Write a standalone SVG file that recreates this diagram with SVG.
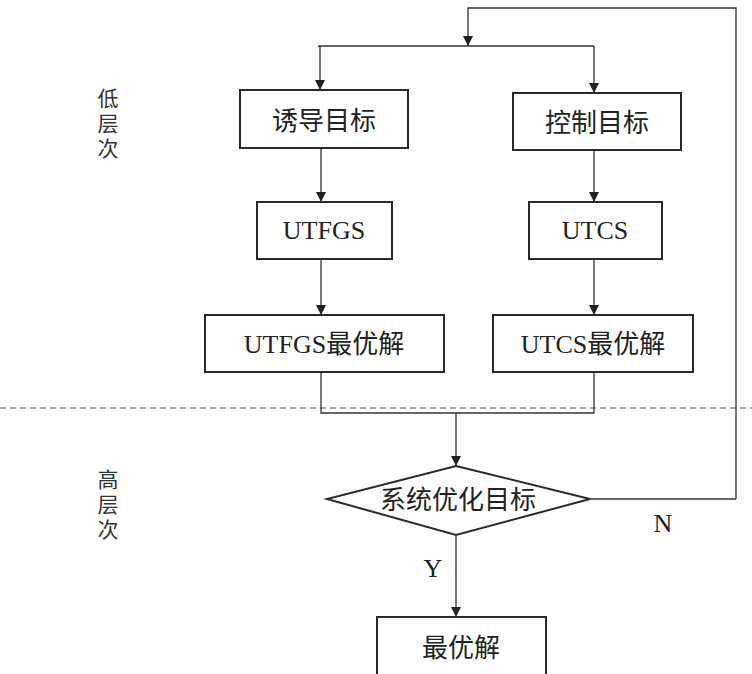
<svg xmlns="http://www.w3.org/2000/svg" width="752" height="674" viewBox="0 0 752 674">
<style>
.box{fill:#fff;stroke:#2a2a2a;stroke-width:2}
.ln{fill:none;stroke:#333;stroke-width:1.3}
.t{font-family:"Liberation Serif","Noto Sans CJK SC",serif;font-size:26px;fill:#222;text-anchor:middle;dominant-baseline:central}
.side{font-family:"Noto Sans CJK SC",sans-serif;font-size:21px;fill:#333;writing-mode:vertical-rl;letter-spacing:4px}
</style>
<defs>
<marker id="ah" viewBox="0 0 10 10" refX="10" refY="5" markerWidth="10" markerHeight="12" markerUnits="userSpaceOnUse" orient="auto">
<path d="M0,0 L10,5 L0,10 Z" fill="#222"/>
</marker>
</defs>
<rect width="752" height="674" fill="#fff"/>
<line x1="0" y1="408" x2="752" y2="408" stroke="#555" stroke-width="1.2" stroke-dasharray="6,4"/>
<g id="connectors">
<path class="ln" d="M736,499 L736,8 L468,8 L468,46" marker-end="url(#ah)"/>
<path class="ln" d="M318,46 L594,46"/>
<path class="ln" d="M320,46 L320,90" marker-end="url(#ah)"/>
<path class="ln" d="M594,46 L594,93" marker-end="url(#ah)"/>
<path class="ln" d="M321,148 L321,202" marker-end="url(#ah)"/>
<path class="ln" d="M594,150 L594,202" marker-end="url(#ah)"/>
<path class="ln" d="M321,259 L321,315" marker-end="url(#ah)"/>
<path class="ln" d="M594,259 L594,315" marker-end="url(#ah)"/>
<path class="ln" d="M321,372 L321,413 L594,413 L594,372"/>
<path class="ln" d="M456,413 L456,466" marker-end="url(#ah)"/>
<path class="ln" d="M590,499 L736,499"/>
<path class="ln" d="M456,535 L456,617" marker-end="url(#ah)"/>
<text class="t" x="663" y="523">N</text>
<text class="t" x="433" y="568">Y</text>
</g>
<g id="label-low">
<text class="side" x="108" y="88">低层次</text>
</g>
<g id="label-high">
<text class="side" x="108" y="469">高层次</text>
</g>
<g id="n1"><rect class="box" x="240" y="90" width="168" height="58"/><text class="t" x="324" y="121">诱导目标</text></g>
<g id="n2"><rect class="box" x="513" y="93" width="168" height="57"/><text class="t" x="597" y="123">控制目标</text></g>
<g id="n3"><rect class="box" x="257" y="202" width="135" height="57"/><text class="t" x="324" y="230">UTFGS</text></g>
<g id="n4"><rect class="box" x="529" y="202" width="133" height="57"/><text class="t" x="595" y="230">UTCS</text></g>
<g id="n5"><rect class="box" x="205" y="315" width="239" height="57"/><text class="t" x="324" y="344">UTFGS最优解</text></g>
<g id="n6"><rect class="box" x="493" y="315" width="200" height="57"/><text class="t" x="593" y="344">UTCS最优解</text></g>
<g id="n7"><polygon class="box" points="456,466 590,499 456,535 327,499"/><text class="t" x="458" y="500">系统优化目标</text></g>
<g id="n8"><rect class="box" x="377" y="617" width="169" height="62"/><text class="t" x="461" y="648">最优解</text></g>
</svg>
